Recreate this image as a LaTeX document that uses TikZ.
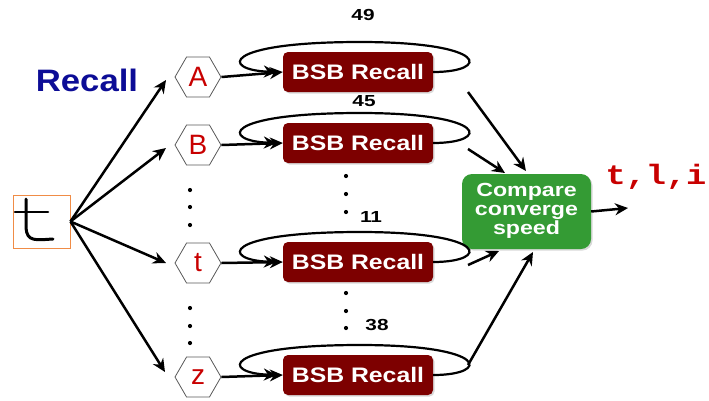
\documentclass[tikz,border=0pt]{standalone}
\usepackage{fontspec}
\setmainfont{Liberation Sans}
\newfontfamily\monofont{Liberation Mono}
\usetikzlibrary{arrows.meta,shapes.geometric,shadows,calc}
\definecolor{recallblue}{RGB}{12,12,150}
\definecolor{bsbred}{RGB}{125,0,0}
\definecolor{letterred}{RGB}{200,0,0}
\definecolor{cmpgreen}{RGB}{52,155,52}
\definecolor{frameorange}{RGB}{240,140,70}
\newcommand{\wide}[1]{\scalebox{1.18}[1]{#1}}
% self-loop around a BSB box, entering again at its left side
\newcommand{\bsbloop}[1]{%
  \draw[loopline] (#1.east)
    .. controls ($(#1.east)+(57,0)$) and ($(#1.east)+(57,-30)$) .. ($(#1)+(2,-30)$)
    .. controls ($(#1.west)+(-62,-30)$) and ($(#1.west)+(-62,-2)$) .. ($(#1.west)+(-6,0)$);}

\begin{document}
\begin{tikzpicture}[x=1pt,y=-1pt,
  hexnode/.style={regular polygon, regular polygon sides=6, minimum size=46pt,
    inner sep=0pt, draw=black!65, line width=0.8pt, text=letterred,
    font=\fontsize{28}{28}\selectfont},
  bsb/.style={rounded corners=5pt, fill=bsbred, minimum width=150pt,
    minimum height=40pt, inner sep=0pt, text=white,
    font=\fontsize{21}{21}\selectfont\bfseries,
    drop shadow={shadow xshift=1.5pt, shadow yshift=-1.5pt, opacity=0.3}},
  cmpbox/.style={rounded corners=10pt, fill=cmpgreen, minimum width=129pt,
    minimum height=75pt, inner sep=0pt, text=white,
    font=\fontsize{19}{19}\selectfont\bfseries,
    drop shadow={shadow xshift=1.5pt, shadow yshift=-1.5pt, opacity=0.3}},
  count/.style={font=\fontsize{16}{16}\selectfont\bfseries, inner sep=0pt},
  arr/.style={-{Stealth[length=13pt,width=12pt]}, line width=2.5pt},
  loopline/.style={-{Stealth[length=13pt,width=12pt]}, line width=2.2pt},
  vdot/.style={circle, fill=black, inner sep=0pt, minimum size=4.2pt}
]
\useasboundingbox (0,0) rectangle (709,400);

% input character
\node[draw=frameorange, line width=0.9pt, minimum width=57pt, minimum height=53pt,
  inner sep=0pt] (img) at (41.5,221.5) {};
\draw[line width=3pt, line cap=round] (26,199) -- (26,228)
  .. controls (27,242) and (36,240) .. (53,239);
\draw[line width=2.6pt, line cap=round] (15,212) -- (48,212);

% title
\node[text=recallblue, font=\fontsize{31}{31}\selectfont\bfseries, inner sep=0pt]
  (title) at (87,80) {\scalebox{1.12}[1]{Recall}};

% letter prototypes
\node[hexnode] (hA) at (198,77) {A};
\node[hexnode] (hB) at (198,145) {B};
\node[hexnode] (ht) at (198,263) {t};
\node[hexnode] (hz) at (198,377) {z};

% recall units
\node[bsb] (bA) at (358,72) {\wide{BSB Recall}};
\node[bsb] (bB) at (358,143) {\wide{BSB Recall}};
\node[bsb] (bt) at (358,262) {\wide{BSB Recall}};
\node[bsb] (bz) at (358,375) {\wide{BSB Recall}};

% comparison unit
\node[cmpbox] (cmp) at (526.5,211.5)
  {\scalebox{1.22}[1]{\begin{tabular}{@{}c@{}}Compare\\converge\\speed\end{tabular}}};

% iteration counts
\node[count] (nA) at (363,15) {\scalebox{1.3}[1]{49}};
\node[count] (nB) at (364,101) {\scalebox{1.3}[1]{45}};
\node[count] (nt) at (371,217) {\scalebox{1.3}[1]{11}};
\node[count] (nz) at (377,325) {\scalebox{1.3}[1]{38}};

% result
\node[text=letterred, font=\fontsize{28}{28}\selectfont\monofont\bfseries, inner sep=0pt]
  (res) at (656,177) {\scalebox{1.2}[1]{t,l,i}};

% ellipsis dots
\foreach \y in {190,207,225,308,326,343} \node[vdot] at (190,\y) {};
\foreach \y in {176,194,212,293,311,328} \node[vdot] at (346,\y) {};

% fan-out from the input
\coordinate (eA) at (166,80);
\coordinate (eB) at (166,148);
\coordinate (et) at (166,263);
\coordinate (ez) at (165,372);
\foreach \e in {eA,eB,et,ez} \draw[arr] (img.east) -- (\e);

% prototype -> recall unit, with self-loops
\foreach \h/\b in {hA/bA,hB/bB,ht/bt,hz/bz} {
  \draw[arr] (\h.east) -- (\b.west);
  \bsbloop{\b}
}

% recall units -> comparison
\coordinate (sA) at (468,92);  \coordinate (tA) at (526,171);
\coordinate (sB) at (468,149); \coordinate (tB) at (505,173);
\coordinate (st) at (468,265); \coordinate (tt) at (499,251);
\coordinate (sz) at (468,365); \coordinate (tz) at (533,252);
\draw[arr] (sA) -- (tA);
\draw[arr] (sB) -- (tB);
\draw[arr] (st) -- (tt);
\draw[arr] (sz) -- (tz);

% output
\coordinate (out) at (628,208);
\draw[arr] (cmp.east) -- (out);
\end{tikzpicture}
\end{document}
